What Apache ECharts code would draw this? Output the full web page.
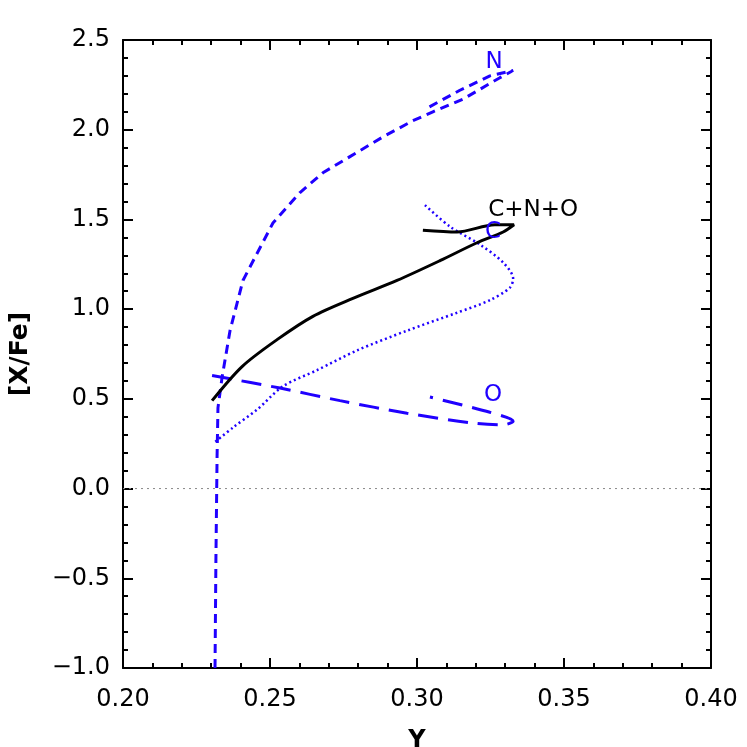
<!DOCTYPE html>
<html>
<head>
<meta charset="utf-8">
<script src="https://cdn.jsdelivr.net/npm/echarts@6/dist/echarts.min.js"></script>
<style>
  html, body { margin: 0; padding: 0; background: #fff; }
  #chart { width: 747px; height: 747px; }
</style>
</head>
<body>
<div id="chart"></div>
<script>
// N (short dashes): up from the bottom, out to the tip, then back
var nX = [0.2313, 0.2316, 0.2320, 0.2323, 0.2337, 0.2364, 0.2408, 0.2510, 0.2602, 0.2680, 0.2772, 0.2884, 0.2986, 0.3054, 0.3156, 0.3282, 0.3327, 0.3248, 0.3146, 0.3034];
var nY = [-1.00, -0.40, 0.18, 0.45, 0.62, 0.88, 1.16, 1.48, 1.65, 1.76, 1.85, 1.96, 2.05, 2.10, 2.17, 2.29, 2.33, 2.30, 2.22, 2.12];

// C+N+O (solid black)
var cnoX = [0.2303, 0.2405, 0.2524, 0.2646, 0.2782, 0.2932, 0.3078, 0.3204, 0.3293, 0.3330, 0.3265, 0.3136, 0.3020];
var cnoY = [0.49, 0.68, 0.83, 0.96, 1.06, 1.16, 1.27, 1.37, 1.43, 1.47, 1.47, 1.43, 1.44];

// C (dotted)
var cX = [0.3027, 0.3112, 0.3214, 0.3293, 0.3327, 0.3316, 0.3248, 0.3136, 0.2966, 0.2796, 0.2660, 0.2544, 0.2456, 0.2374, 0.2306];
var cY = [1.58, 1.46, 1.36, 1.26, 1.17, 1.12, 1.05, 0.98, 0.88, 0.77, 0.66, 0.57, 0.44, 0.34, 0.25];

// O (long dashes)
var oX = [0.2303, 0.2534, 0.2738, 0.2966, 0.3190, 0.3293, 0.3327, 0.3248, 0.3044];
var oY = [0.63, 0.56, 0.49, 0.42, 0.365, 0.355, 0.375, 0.425, 0.51];

// zero reference line
var zeroX = [0.20, 0.40];
var zeroY = [0, 0];

// curve labels
var labelText = ['N', 'C+N+O', 'C', 'O'];
var labelX = [0.3262, 0.3395, 0.3259, 0.3259];
var labelY = [2.38, 1.55, 1.43, 0.52];
var labelColor = ['#2000ff', '#000000', '#2000ff', '#2000ff'];

function pairs(xs, ys) {
  return xs.map(function (x, i) { return [x, ys[i]]; });
}

var blue = '#2000ff';

function axisBase(extra) {
  var a = {
    type: 'value',
    axisLine: { show: true, onZero: false, lineStyle: { color: '#000', width: 2 } },
    axisTick: { show: true, inside: true, length: 10, lineStyle: { color: '#000', width: 2 } },
    minorTick: { show: true, splitNumber: 5, length: 5, lineStyle: { color: '#000', width: 2 } },
    splitLine: { show: false },
    minorSplitLine: { show: false }
  };
  for (var k in extra) a[k] = extra[k];
  return a;
}

var labelSeries = labelText.map(function (t, i) {
  return {
    type: 'scatter',
    data: [[labelX[i], labelY[i]]],
    symbolSize: 1,
    itemStyle: { color: 'transparent', opacity: 1 },
    label: {
      show: true,
      position: 'inside',
      formatter: t,
      fontFamily: 'DejaVu Sans',
      fontSize: 23,
      color: labelColor[i],
      opacity: 1,
      textBorderWidth: 0
    },
    silent: true,
    z: 5
  };
});

var myChart = echarts.init(document.getElementById('chart'), null, { renderer: 'canvas' });
myChart.setOption({
  animation: false,
  backgroundColor: '#fff',
  grid: { left: 123, top: 40, width: 588, height: 628, containLabel: false, outerBoundsMode: 'none' },
  xAxis: [
    axisBase({
      position: 'bottom', min: 0.2, max: 0.4, interval: 0.05,
      axisLabel: {
        show: true, margin: 20,
        fontFamily: 'DejaVu Sans', fontSize: 24, color: '#000',
        formatter: function (v) { return v.toFixed(2); }
      },
      name: 'Y', nameLocation: 'middle', nameGap: 61,
      nameTextStyle: { fontFamily: 'DejaVu Sans', fontSize: 24, fontWeight: 'bold', color: '#000' }
    }),
    axisBase({
      position: 'top', min: 0.2, max: 0.4, interval: 0.05,
      axisLabel: { show: false }
    })
  ],
  yAxis: [
    axisBase({
      position: 'left', min: -1, max: 2.5, interval: 0.5,
      axisLabel: {
        show: true, margin: 13,
        fontFamily: 'DejaVu Sans', fontSize: 24, color: '#000',
        formatter: function (v) { return v.toFixed(1).replace('-', '\u2212'); }
      },
      name: '[X/Fe]', nameLocation: 'middle', nameGap: 90,
      nameTextStyle: { fontFamily: 'DejaVu Sans', fontSize: 25, fontWeight: 'bold', color: '#000' }
    }),
    axisBase({
      position: 'right', min: -1, max: 2.5, interval: 0.5,
      axisLabel: { show: false }
    })
  ],
  series: [
    {
      name: 'zero', type: 'line', data: pairs(zeroX, zeroY), symbol: 'none',
      lineStyle: { color: '#888', width: 1, type: [2, 4] }, z: 1, silent: true
    },
    {
      name: 'N', type: 'line', data: pairs(nX, nY), symbol: 'none', smooth: false,
      lineStyle: { color: blue, width: 3, type: [9, 6] }, z: 3
    },
    {
      name: 'C', type: 'line', data: pairs(cX, cY), symbol: 'none', smooth: 0.3,
      lineStyle: { color: blue, width: 2.5, type: [2, 3] }, z: 3
    },
    {
      name: 'O', type: 'line', data: pairs(oX, oY), symbol: 'none', smooth: 0.3,
      lineStyle: { color: blue, width: 3, type: [20, 10] }, z: 3
    },
    {
      name: 'C+N+O', type: 'line', data: pairs(cnoX, cnoY), symbol: 'none', smooth: 0.3,
      lineStyle: { color: '#000', width: 3 }, z: 4
    }
  ].concat(labelSeries)
});
</script>
</body>
</html>
